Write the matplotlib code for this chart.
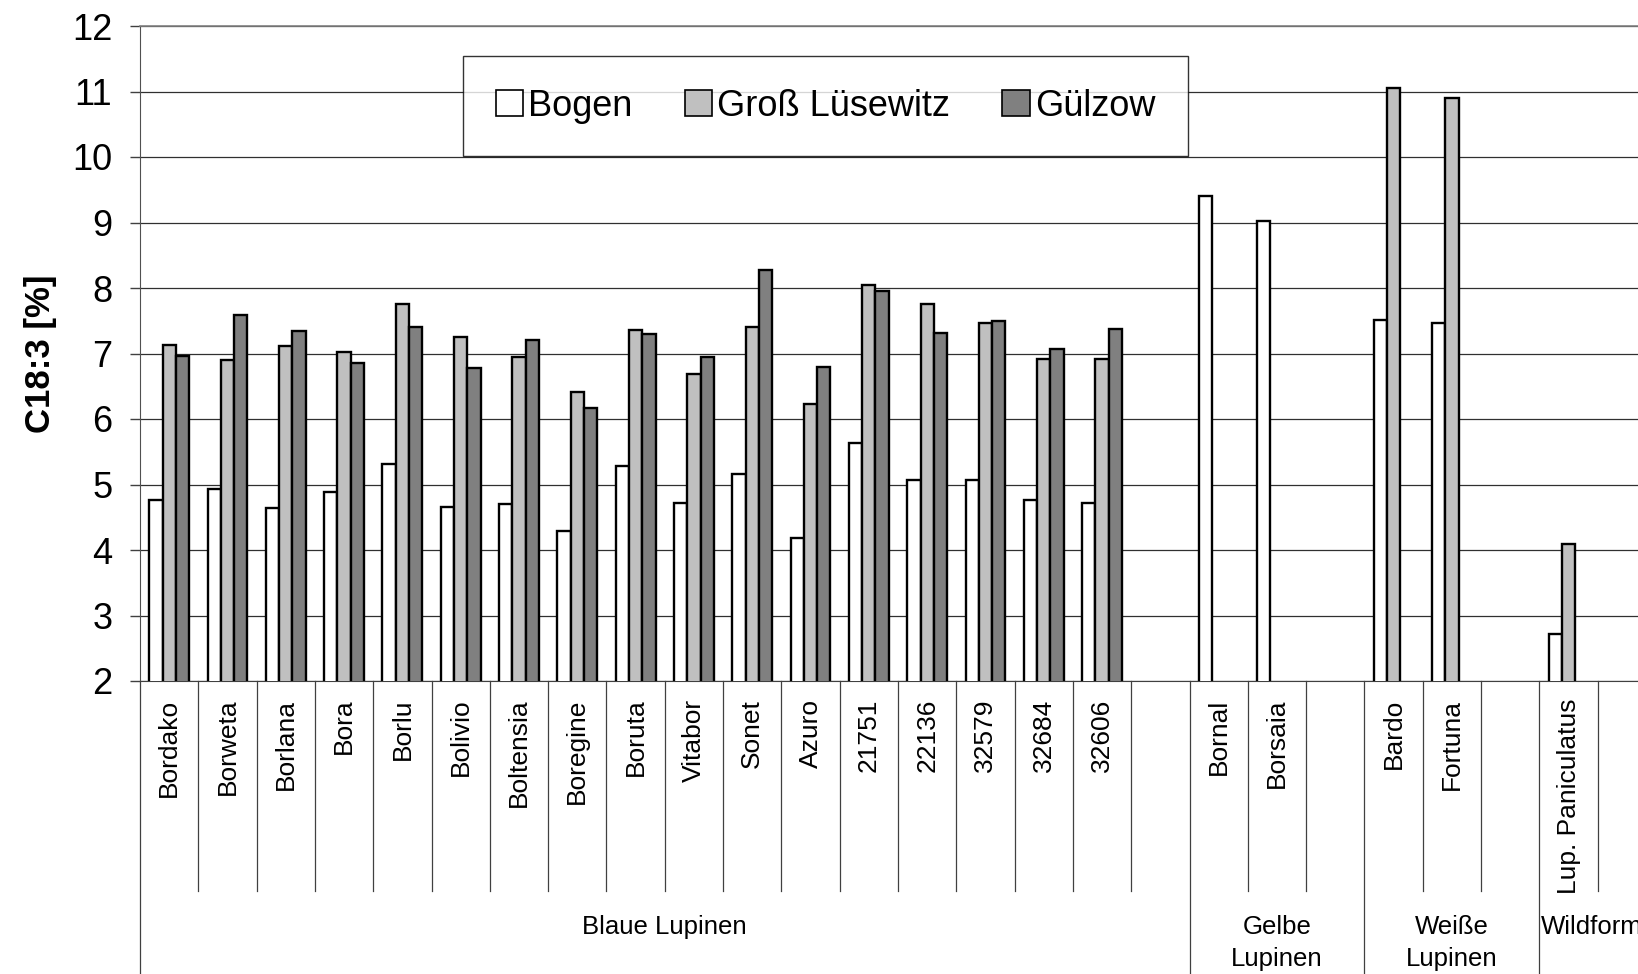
import numpy as np
import matplotlib
matplotlib.use("Agg")
import matplotlib.pyplot as plt
import matplotlib.transforms as mtransforms
from matplotlib.patches import Patch

plt.rcParams['font.family'] = ['Liberation Sans', 'DejaVu Sans']

# --- Daten ---
sorten = ['Bordako', 'Borweta', 'Borlana', 'Bora', 'Borlu', 'Bolivio', 'Boltensia',
          'Boregine', 'Boruta', 'Vitabor', 'Sonet', 'Azuro', '21751', '22136',
          '32579', '32684', '32606', '',
          'Bornal', 'Borsaia', '',
          'Bardo', 'Fortuna', '',
          'Lup. Paniculatus', '']
nan = np.nan
bogen = [4.76, 4.93, 4.64, 4.88, 5.31, 4.65, 4.70, 4.29, 5.29, 4.71, 5.16, 4.18,
         5.63, 5.07, 5.07, 4.76, 4.71, nan,
         9.40, 9.03, nan,
         7.51, 7.46, nan,
         2.71, nan]
gross_luesewitz = [7.13, 6.90, 7.12, 7.03, 7.75, 7.25, 6.95, 6.41, 7.36, 6.69, 7.40, 6.23,
                   8.04, 7.76, 7.47, 6.91, 6.91, nan,
                   nan, nan, nan,
                   11.06, 10.90, nan,
                   4.09, nan]
guelzow = [6.96, 7.59, 7.35, 6.85, 7.41, 6.78, 7.20, 6.17, 7.30, 6.95, 8.28, 6.79,
           7.95, 7.31, 7.49, 7.07, 7.37, nan,
           nan, nan, nan,
           nan, nan, nan,
           nan, nan]
gruppen = ['Blaue Lupinen', 'Gelbe\nLupinen', 'Weiße\nLupinen', 'Wildformen']
gruppen_grenzen = [0, 18, 21, 24, 26]

serien = [('Bogen', bogen, '#FFFFFF'),
          ('Groß Lüsewitz', gross_luesewitz, '#C0C0C0'),
          ('Gülzow', guelzow, '#808080')]

# --- Figur ---
fig = plt.figure(figsize=(16.38, 9.74), dpi=100)
ax = fig.add_axes([140 / 1638, 1 - 681 / 974, 1516 / 1638, 655 / 974])

n = len(sorten)
bw = 0.228
for k, (name, werte, farbe) in enumerate(serien):
    werte = np.array(werte, dtype=float)
    idx = np.where(~np.isnan(werte))[0]
    ax.bar(idx + 0.5 + (k - 1) * bw, werte[idx], width=bw, bottom=0,
           color=farbe, edgecolor='black', linewidth=1.7, zorder=3)

ax.set_xlim(0, n)
ax.set_ylim(2, 12)
ax.set_yticks(range(2, 13))
ax.tick_params(axis='y', direction='out', length=7, width=1, labelsize=26, pad=13,
               colors='#404040', labelcolor='black')
ax.set_xticks([])
ax.yaxis.grid(True, color='#303030', linewidth=0.9, zorder=0)
ax.set_axisbelow(True)
ax.spines['top'].set_color('#808080')
ax.spines['top'].set_linewidth(1.2)
ax.spines['left'].set_color('#505050')
ax.spines['bottom'].set_color('#404040')
ax.spines['right'].set_visible(False)
ax.set_ylabel('C18:3 [%]', fontsize=25, fontweight='bold')
ax.yaxis.set_label_coords(-0.055, 0.5)

# --- Beschriftung der Kategorien ---
trans = mtransforms.blended_transform_factory(ax.transData, ax.transAxes)
for i, s in enumerate(sorten):
    if s:
        ax.text(i + 0.5, -0.027, s, rotation=90, ha='center', va='top',
                fontsize=19, transform=trans)
for x in range(n + 1):
    unten = -0.6 if x in gruppen_grenzen else -0.3206
    ax.plot([x, x], [0, unten], transform=trans, color='#404040',
            linewidth=0.9, clip_on=False)
for g, (a, b) in zip(gruppen, zip(gruppen_grenzen[:-1], gruppen_grenzen[1:])):
    xpos = (a + b) / 2 + (0.15 if g == 'Wildformen' else 0)
    ax.text(xpos, -0.357, g, ha='center', va='top', fontsize=18.5,
            linespacing=1.45, transform=trans)

# --- Legende ---
handles = [Patch(facecolor=f, edgecolor='black', linewidth=1.2) for _, _, f in serien]
leg = fig.legend(handles, [s[0] for s in serien], loc='center',
                 bbox_to_anchor=((465 + 1186) / 2 / 1638, 1 - 106 / 974),
                 ncol=3, fontsize=26, frameon=True, fancybox=False,
                 handlelength=0.75, handleheight=0.75, handletextpad=0.15,
                 columnspacing=1.45, borderpad=0.9, borderaxespad=0)
leg.get_frame().set_edgecolor('black')
leg.get_frame().set_linewidth(1.0)

fig.savefig('out.png', dpi=100)
